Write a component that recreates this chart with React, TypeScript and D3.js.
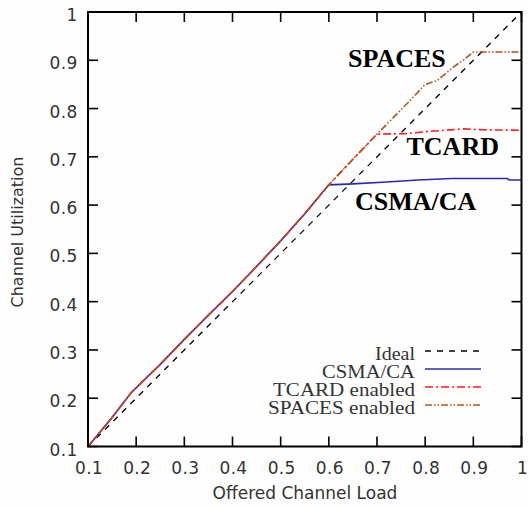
import React from "react";
import * as d3 from "d3";

// Offered load (x) vs. channel utilization (y) for each MAC scheme
const idealLoad = [0.1, 1.0];
const idealUtil = [0.1, 1.0];

const csmaLoad = [0.1, 0.125, 0.15, 0.19, 0.25, 0.3, 0.35, 0.4, 0.45, 0.5, 0.55, 0.6, 0.65, 0.72, 0.785, 0.855, 0.97, 0.975, 1.0];
const csmaUtil = [0.1, 0.13, 0.16, 0.212, 0.27, 0.322, 0.372, 0.421, 0.473, 0.526, 0.582, 0.642, 0.644, 0.648, 0.652, 0.655, 0.655, 0.652, 0.652];

const tcardLoad = [0.1, 0.125, 0.15, 0.19, 0.25, 0.3, 0.35, 0.4, 0.45, 0.5, 0.55, 0.6, 0.65, 0.7, 0.76, 0.8, 0.88, 0.92, 1.0];
const tcardUtil = [0.1, 0.13, 0.16, 0.212, 0.27, 0.322, 0.372, 0.421, 0.473, 0.526, 0.582, 0.642, 0.695, 0.747, 0.748, 0.752, 0.758, 0.756, 0.755];

const spacesLoad = [0.1, 0.125, 0.15, 0.19, 0.25, 0.3, 0.35, 0.4, 0.45, 0.5, 0.55, 0.6, 0.65, 0.7, 0.77, 0.8, 0.825, 0.86, 0.88, 0.9, 1.0];
const spacesUtil = [0.1, 0.13, 0.16, 0.212, 0.27, 0.322, 0.372, 0.421, 0.473, 0.526, 0.582, 0.642, 0.695, 0.747, 0.818, 0.85, 0.858, 0.887, 0.901, 0.917, 0.917];

const tickValues = [0.1, 0.2, 0.3, 0.4, 0.5, 0.6, 0.7, 0.8, 0.9, 1.0];
const tickLabels = ["0.1", "0.2", "0.3", "0.4", "0.5", "0.6", "0.7", "0.8", "0.9", "1"];

const legendNames = ["Ideal", "CSMA/CA", "TCARD enabled", "SPACES enabled"];
const curveTags = ["SPACES", "TCARD", "CSMA/CA"];

const W = 529;
const H = 506;
const plot = { left: 88, right: 521.5, top: 12, bottom: 446.5 };

const x = d3.scaleLinear().domain([0.1, 1]).range([plot.left, plot.right]);
const y = d3.scaleLinear().domain([0.1, 1]).range([plot.bottom, plot.top]);

const lineGen = d3
  .line<[number, number]>()
  .x((d) => x(d[0]))
  .y((d) => y(d[1]));

const zip = (a: number[], b: number[]) => a.map((v, i) => [v, b[i]] as [number, number]);

const series = [
  { pts: zip(idealLoad, idealUtil), color: "#000000", dash: "6 6", width: 1.3 },
  { pts: zip(csmaLoad, csmaUtil), color: "#2a2ab8", dash: "none", width: 1.6 },
  { pts: zip(tcardLoad, tcardUtil), color: "#ff1a1a", dash: "8 3 2 3", width: 1.6 },
  { pts: zip(spacesLoad, spacesUtil), color: "#b0561e", dash: "7 2 1.5 2 1.5 2", width: 1.6 },
];

const serifFont = "'Liberation Serif', 'Times New Roman', serif";
const sansFont = "'DejaVu Sans', sans-serif";
// drawn widths of the legend entries
const legendWidths = [40, 93, 142, 147];

export default function App() {
  const tickLen = 10;
  return (
    <svg
      width={W}
      height={H}
      style={{ position: "absolute", left: 0, top: 0, background: "#ffffff" }}
      fontFamily={serifFont}
    >
      <rect x={0} y={0} width={W} height={H} fill="#fefefe" />

      {/* ticks on all four sides, pointing inward */}
      {tickValues.map((v, i) => (
        <g key={"t" + i} stroke="#000" strokeWidth={1.6}>
          <line x1={x(v)} x2={x(v)} y1={plot.bottom} y2={plot.bottom - tickLen} />
          <line x1={x(v)} x2={x(v)} y1={plot.top} y2={plot.top + tickLen} />
          <line x1={plot.left} x2={plot.left + tickLen} y1={y(v)} y2={y(v)} />
          <line x1={plot.right} x2={plot.right - tickLen} y1={y(v)} y2={y(v)} />
        </g>
      ))}

      {/* tick labels */}
      {tickValues.map((v, i) => (
        <text
          key={"xl" + i}
          x={x(v) + 1}
          y={473.5}
          textAnchor="middle"
          fontFamily={sansFont}
          fontSize={17}
          letterSpacing={0.3}
          fill="#333"
        >
          {tickLabels[i]}
        </text>
      ))}
      {tickValues.map((v, i) => (
        <text
          key={"yl" + i}
          x={77.5}
          y={i === tickValues.length - 1 ? y(v) + 8.5 : y(v) + 9}
          textAnchor="end"
          fontFamily={sansFont}
          fontSize={17}
          letterSpacing={0.3}
          fill="#333"
        >
          {tickLabels[i]}
        </text>
      ))}

      {/* axis titles */}
      <text
        x={305}
        y={499}
        textAnchor="middle"
        fontFamily={sansFont}
        fontSize={17}
        fill="#333"
      >
        Offered Channel Load
      </text>
      <text
        transform={`translate(23, 232) rotate(-90)`}
        textAnchor="middle"
        fontFamily={sansFont}
        fontSize={16}
        fill="#333"
      >
        Channel Utilization
      </text>

      {/* data curves */}
      {series.map((s, i) => (
        <path
          key={"s" + i}
          d={lineGen(s.pts) || ""}
          fill="none"
          stroke={s.color}
          strokeWidth={s.width}
          strokeDasharray={s.dash}
        />
      ))}

      {/* curve annotations */}
      <text x={348} y={66.5} fontSize={26} fontWeight="bold" fill="#000">
        {curveTags[0]}
      </text>
      <text x={406.5} y={155} fontSize={26} fontWeight="bold" fill="#000">
        {curveTags[1]}
      </text>
      <text x={355} y={210} fontSize={26} fontWeight="bold" fill="#000">
        {curveTags[2]}
      </text>

      {/* legend */}
      {legendNames.map((name, i) => {
        const ly = 351 + i * 18;
        const s = series[i];
        return (
          <g key={"lg" + i}>
            <text
              x={415}
              y={ly + 8.5}
              textAnchor="end"
              fontSize={18}
              textLength={legendWidths[i]}
              lengthAdjust="spacingAndGlyphs"
              fill="#333"
            >
              {name}
            </text>
            <line
              x1={425}
              x2={481}
              y1={ly}
              y2={ly}
              stroke={s.color}
              strokeWidth={s.width}
              strokeDasharray={s.dash}
            />
          </g>
        );
      })}

      {/* frame */}
      <rect
        x={plot.left}
        y={plot.top}
        width={plot.right - plot.left}
        height={plot.bottom - plot.top}
        fill="none"
        stroke="#000"
        strokeWidth={2}
      />
    </svg>
  );
}
